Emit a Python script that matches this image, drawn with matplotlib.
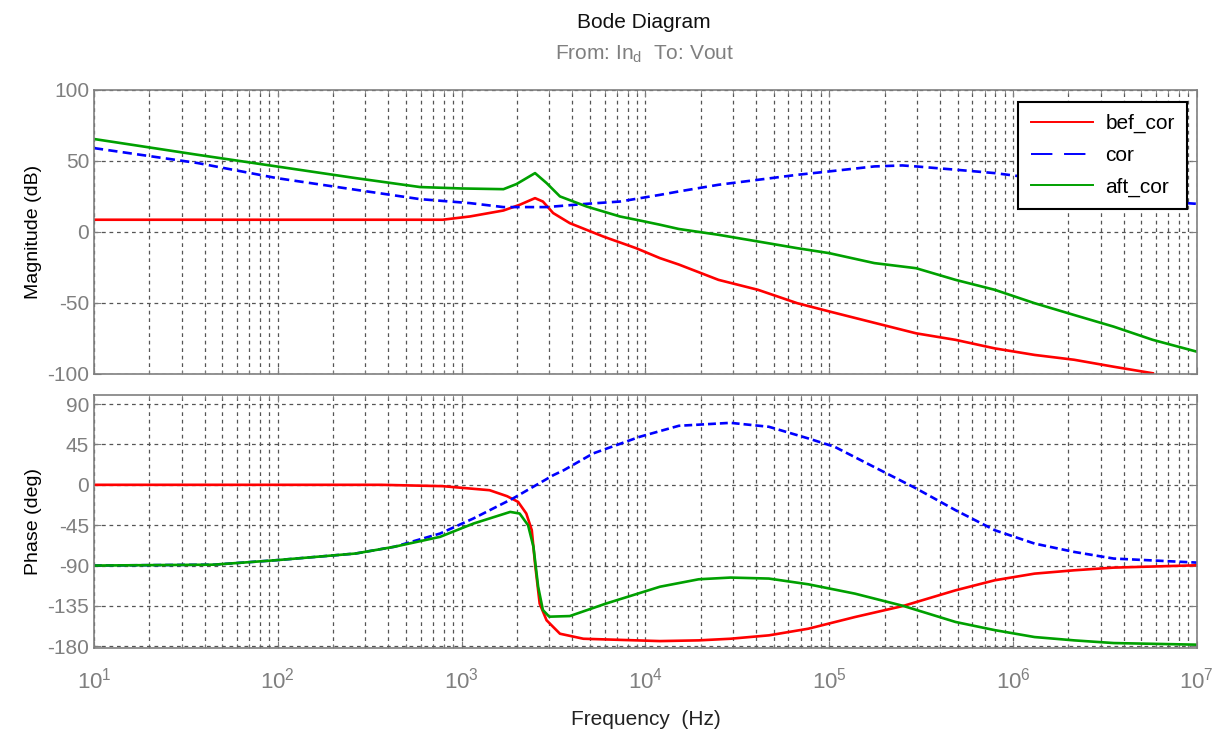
import matplotlib
matplotlib.use("Agg")
import matplotlib.pyplot as plt
from matplotlib.ticker import LogLocator, NullFormatter

plt.rcParams['font.family'] = ['Liberation Sans Narrow', 'Liberation Sans', 'DejaVu Sans']
plt.rcParams['axes.unicode_minus'] = False

# Magnitude (dB)
bef_mag_f = [10, 100, 789, 1110, 1690, 2070, 2510, 2770, 3150, 3880, 5900, 8900,
             12000, 15200, 25000, 41000, 67000, 1e5, 164e3, 297e3, 487e3, 796e3,
             1.31e6, 2.15e6, 3.53e6, 5.76e6]
bef_mag = [8.5, 8.5, 8.5, 10.8, 15, 19, 23.7, 21.3, 13.2, 6.1, -3.3, -11.5,
           -18.5, -23, -33.8, -40.8, -50.2, -56, -63, -71.4, -76, -82,
           -86.6, -90, -94.9, -99.5]

cor_mag_f = [10, 36.6, 98.6, 265, 594, 1110, 1690, 2900, 4790, 7270, 12000, 15200,
             25000, 41000, 67000, 1e5, 176e3, 250e3, 297e3, 487e3, 796e3, 1.1e6,
             2e6, 4e6, 1e7]
cor_mag = [58.9, 48.4, 37.8, 29.6, 23, 20.2, 17.4, 17.4, 19.7, 21.3, 26, 28.4,
           33.1, 36.6, 40.1, 42.5, 46, 46.7, 46, 43.7, 41.3, 39,
           30, 23, 19.7]

aft_mag_f = [10, 36.6, 98.6, 265, 594, 1000, 1690, 1990, 2510, 2900, 3430, 4790,
             7270, 9300, 12000, 15200, 25000, 41000, 67000, 1e5, 176e3, 297e3,
             487e3, 796e3, 1.31e6, 2.15e6, 3.53e6, 5.76e6, 1e7]
aft_mag = [65.3, 54.2, 46, 37.8, 31.5, 30.5, 30, 33.6, 41.3, 34.3, 24.9, 17.8,
           10.8, 8, 5, 2, -2.1, -6.8, -11.5, -15, -22, -25.6,
           -33.8, -40.8, -50.2, -58.5, -66.7, -76, -84.3]

# Phase (deg)
bef_ph_f = [10, 365, 789, 1420, 1770, 2030, 2250, 2410, 2510, 2660, 2900, 3430,
            4600, 12000, 19500, 29000, 47000, 77000, 138e3, 253e3, 487e3, 796e3,
            1.31e6, 2.15e6, 3.53e6, 1e7]
bef_ph = [0, 0, -1.5, -6, -12.7, -19, -32, -50.6, -87.8, -132.4, -151, -166,
          -171.6, -174.2, -173.4, -171.6, -167.8, -160.4, -147.4, -135, -117.6, -106.4,
          -99, -95.3, -92.3, -89.7]

cor_ph_f = [10, 45, 98.6, 265, 432, 764, 1160, 1900, 3160, 3600, 5200, 9300, 15200,
            29000, 47000, 77000, 107e3, 175e3, 297e3, 487e3, 796e3, 1.31e6,
            2.15e6, 3.53e6, 1e7]
cor_ph = [-90, -89, -84, -76.6, -69, -54.3, -37.5, -15.3, 10.8, 16.3, 35, 53.5, 65.8,
          69.1, 64.7, 51.7, 42.4, 20, -4, -28.3, -50.6, -65.5,
          -74.8, -82.2, -86.7]

aft_ph_f = [10, 45, 98.6, 265, 432, 764, 1160, 1840, 2070, 2300, 2460, 2610, 2770,
            3000, 3880, 6100, 12000, 19500, 29000, 47000, 77000, 138e3, 253e3,
            487e3, 796e3, 1.31e6, 2.15e6, 3.53e6, 1e7]
aft_ph = [-90, -89, -84, -76.6, -69, -58, -43.2, -30.2, -32, -45, -69, -113.6,
          -139.6, -147, -146.3, -132.4, -113.6, -105.3, -103.4, -104.5, -110.9,
          -121.3, -135, -152.9, -162, -169.7, -173.4, -176.4, -178.2]

decades = [1e1, 1e2, 1e3, 1e4, 1e5, 1e6, 1e7]
decade_labels = [r'$\mathregular{10^{%d}}$' % p for p in range(1, 8)]

GRAY = '#7f7f7f'
GRID = '#555555'


def style_axes(ax, yticks, ylim):
    ax.set_xscale('log')
    ax.set_xlim(10, 1e7)
    ax.set_xticks(decades)
    ax.set_xticklabels(decade_labels)
    ax.set_ylim(*ylim)
    ax.set_yticks(yticks)
    ax.xaxis.set_minor_locator(LogLocator(base=10, subs=range(2, 10), numticks=20))
    ax.xaxis.set_minor_formatter(NullFormatter())
    ax.tick_params(which='both', direction='in', top=True, right=True,
                   colors=GRAY, labelcolor=GRAY, labelsize=15)
    ax.tick_params(which='major', length=5)
    ax.tick_params(which='minor', length=3)
    for sp in ax.spines.values():
        sp.set_color(GRAY)
        sp.set_linewidth(1.2)
    ax.grid(True, which='major', axis='both', color=GRID, linestyle=(0, (3, 3)), linewidth=0.9)
    ax.grid(True, which='minor', axis='x', color=GRID, linestyle=(0, (3, 3)), linewidth=0.9)
    ax.set_axisbelow(True)


fig = plt.figure(figsize=(12.2, 7.29), dpi=100)
ax1 = fig.add_axes([0.077, 0.487, 0.904, 0.390])
ax2 = fig.add_axes([0.077, 0.111, 0.904, 0.347])

ax1.plot(bef_mag_f, bef_mag, color='#ff0000', lw=1.9, label='bef_cor')
ax1.plot(cor_mag_f, cor_mag, color='#0000ff', lw=1.9, ls=(0, (3.5, 2)), label='cor')
ax1.plot(aft_mag_f, aft_mag, color='#00a000', lw=1.9, label='aft_cor')
style_axes(ax1, [-100, -50, 0, 50, 100], (-100, 100))
ax1.tick_params(labelbottom=False)
ax1.set_ylabel('Magnitude (dB)', fontsize=14, family=['Liberation Sans', 'DejaVu Sans'])

leg = ax1.legend(loc='upper right', bbox_to_anchor=(0.9915, 0.958), borderaxespad=0,
                 fontsize=15, frameon=True, fancybox=False, edgecolor='black',
                 framealpha=1, handlelength=3.0, borderpad=0.6, labelspacing=0.6,
                 handletextpad=0.6)
leg.get_frame().set_linewidth(1.5)
for h in leg.get_lines():
    h.set_linewidth(1.4)
leg.get_lines()[1].set_linestyle((0, (11, 6)))

ax2.plot(bef_ph_f, bef_ph, color='#ff0000', lw=1.9)
ax2.plot(cor_ph_f, cor_ph, color='#0000ff', lw=1.9, ls=(0, (3, 1.5)))
ax2.plot(aft_ph_f, aft_ph, color='#00a000', lw=1.9)
style_axes(ax2, [-180, -135, -90, -45, 0, 45, 90], (-182, 100))
ax2.set_ylabel('Phase (deg)', fontsize=14, family=['Liberation Sans', 'DejaVu Sans'])
ax2.set_xlabel('Frequency  (Hz)', fontsize=15, color='#222222', labelpad=12)
ax2.tick_params(axis='x', pad=14, labelsize=16)

fig.text(0.528, 0.962, 'Bode Diagram', ha='center', fontsize=15, color='#111111')
fig.text(0.528, 0.918, r'From: In$_\mathregular{d}$  To: Vout', ha='center',
         fontsize=15, color=GRAY)

fig.savefig('out.png', dpi=100)
